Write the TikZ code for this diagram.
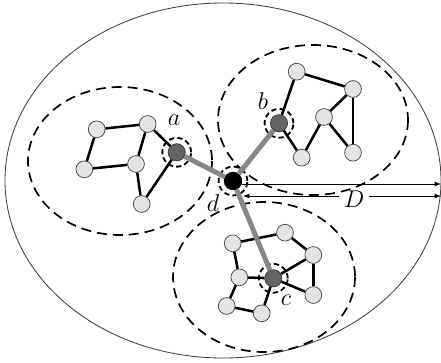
\documentclass[tikz,border=0pt]{standalone}
\usepackage{tikz}
\usetikzlibrary{shapes,arrows,positioning}
\definecolor{vertexgray}{RGB}{228,228,228}
\definecolor{hubgray}{RGB}{100,100,100}
\definecolor{linkgray}{RGB}{135,135,135}

\begin{document}
\begin{tikzpicture}[x=0.25mm, y=-0.25mm,
    vtx/.style={circle, draw=black!75, fill=vertexgray, line width=0.5pt, minimum size=4.2mm, inner sep=0pt},
    hub/.style={circle, draw=black!80, fill=hubgray, line width=0.5pt, minimum size=4.3mm, inner sep=0pt},
    ring/.style={circle, draw, line width=1.3pt, dash pattern=on 1.3mm off 0.8mm, minimum size=7.2mm, inner sep=0pt},
    edge/.style={line width=1.8pt},
    link/.style={draw=linkgray, line width=3.5pt},
    zone/.style={line width=1.2pt, dash pattern=on 2.5mm off 1.5mm},
    lbl/.style={font=\LARGE, inner sep=1pt}]
        \useasboundingbox (0,0) rectangle (441,362);
        \draw[line width=0.6pt, black!75] (223,180.5) ellipse [x radius=218, y radius=177.5];

        % clusters
        \draw[zone] (120,161) ellipse [x radius=92, y radius=74];
        \draw[zone] (313,120) ellipse [x radius=95, y radius=75];
        \draw[zone] (264,277) ellipse [x radius=91, y radius=75];

        % center node
        \node[circle, fill=black, minimum size=4.6mm, inner sep=0pt] (d) at (233,181) {};
        \node[ring] (ringd) at (d) {};

        % left cluster
        \node[vtx] (a1) at (96.7,129.3) {};
        \node[vtx] (a2) at (147.7,124) {};
        \node[vtx] (a3) at (84.3,169.3) {};
        \node[vtx] (a4) at (136,164) {};
        \node[vtx] (a5) at (141.7,204) {};
        \node[hub] (a) at (176.7,152.3) {};
        \node[ring] (ringa) at (a) {};
        \draw[edge] (a1) -- (a2);
        \draw[edge] (a1) -- (a3);
        \draw[edge] (a3) -- (a4);
        \draw[edge] (a2) -- (a4);
        \draw[edge] (a2) -- (a);
        \draw[edge] (a4) -- (a5);
        \draw[edge] (a5) -- (a);

        % top right cluster
        \node[vtx] (b1) at (296.7,71.7) {};
        \node[vtx] (b2) at (353,89) {};
        \node[vtx] (b3) at (324,117) {};
        \node[vtx] (b4) at (301.7,157.7) {};
        \node[vtx] (b5) at (353,152.7) {};
        \node[hub] (b) at (279,123.3) {};
        \node[ring] (ringb) at (b) {};
        \draw[edge] (b1) -- (b2);
        \draw[edge] (b1) -- (b);
        \draw[edge] (b) -- (b4);
        \draw[edge] (b4) -- (b3);
        \draw[edge] (b3) -- (b2);
        \draw[edge] (b3) -- (b5);
        \draw[edge] (b2) -- (b5);

        % bottom cluster
        \node[vtx] (c1) at (285,232.7) {};
        \node[vtx] (c2) at (232.7,243.3) {};
        \node[vtx] (c3) at (313.3,255) {};
        \node[vtx] (c4) at (239.3,277.3) {};
        \node[vtx] (c5) at (313.3,295) {};
        \node[vtx] (c6) at (226.7,306) {};
        \node[vtx] (c7) at (261.7,313.3) {};
        \node[hub] (c) at (273.3,278.3) {};
        \node[ring] (ringc) at (c) {};
        \draw[edge] (c2) -- (c1);
        \draw[edge] (c1) -- (c3);
        \draw[edge] (c3) -- (c);
        \draw[edge] (c3) -- (c5);
        \draw[edge] (c) -- (c5);
        \draw[edge] (c2) -- (c4);
        \draw[edge] (c4) -- (c);
        \draw[edge] (c4) -- (c6);
        \draw[edge] (c6) -- (c7);
        \draw[edge] (c7) -- (c);

        % links to center
        \draw[link] (d) -- (a);
        \draw[link] (d) -- (b);
        \draw[link] (d) -- (c);

        % labels
        \node[lbl] (la) at (174,120) {$a$};
        \node[lbl] (lb) at (263,101) {$b$};
        \node[lbl] (lc) at (286,300) {$c$};
        \node[lbl] (ld) at (213,203) {$d$};
        \node[lbl, inner sep=3pt] (lD) at (354,199) {$D$};

        % radius
        \coordinate (rimtop) at (441,184);
        \coordinate (dlow) at (243,196);
        \coordinate (rimlow) at (441,196);
        \draw[-latex, line width=0.6pt] (d.east |- rimtop) -- (rimtop);
        \draw[-latex, line width=0.6pt] (dlow -| lD.west) -- (dlow);
        \draw[-latex, line width=0.6pt] (rimlow -| lD.east) -- (rimlow);
    \end{tikzpicture}
\end{document}
